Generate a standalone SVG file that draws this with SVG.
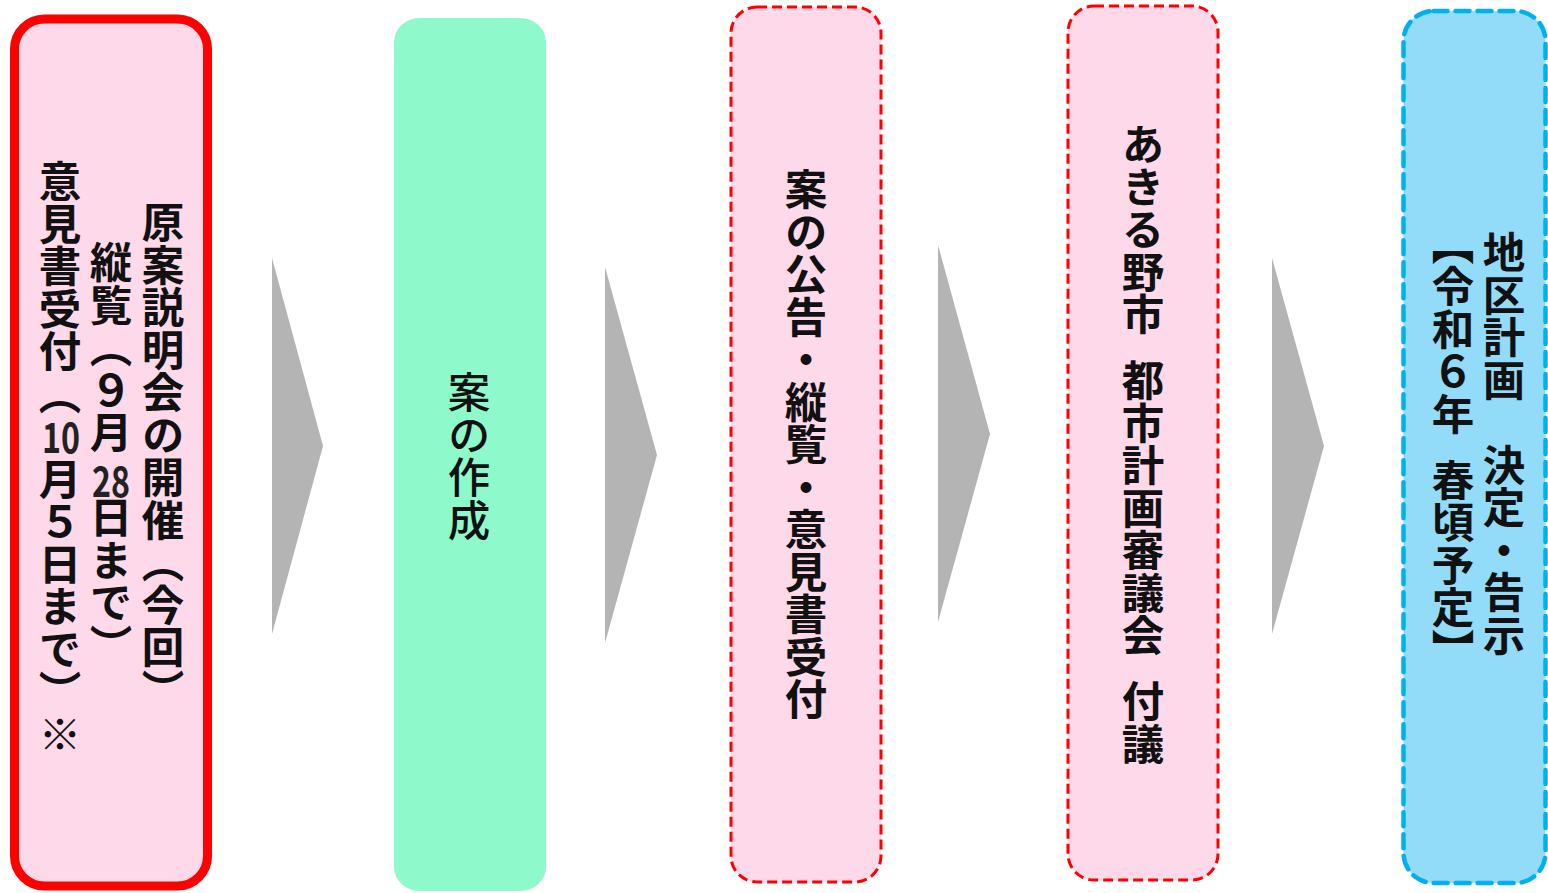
<svg xmlns="http://www.w3.org/2000/svg" width="1548" height="893" viewBox="0 0 1548 893">
<style>
.v{writing-mode:vertical-rl;font-family:"Noto Sans CJK JP","Noto Sans CJK SC",sans-serif;font-size:42.5px;font-weight:700;fill:#111}
.h{font-family:"Noto Sans CJK JP","Noto Sans CJK SC",sans-serif;font-size:42px;font-weight:700;fill:#222;text-anchor:middle}
.pink{fill:#FDD9EA}
.reddash{fill:#FDD9EA;stroke:#FF0000;stroke-width:3;stroke-dasharray:10 5}
.arrow{fill:#B4B4B4}
</style>
<g id="connectors">
<polygon class="arrow" points="272,258 323,446 272,634"/>
<polygon class="arrow" points="605,267 657,455 605,643"/>
<polygon class="arrow" points="938,245 990,434 938,622"/>
<polygon class="arrow" points="1272,258 1324,446 1272,634"/>
</g>
<g id="node1">
<rect x="14.5" y="19" width="193" height="867" rx="30" ry="30" class="pink" stroke="#FF0000" stroke-width="9"/>
<text class="v" x="163" y="201">原案説明会の開催（今回）</text>
<text class="v" x="111" y="241">縦覧（９月</text>
<text class="h" x="111" y="497" textLength="38" lengthAdjust="spacingAndGlyphs">28</text>
<text class="v" x="111" y="496">日まで）</text>
<text class="v" x="60" y="160">意見書受付（</text>
<text class="h" x="61" y="453" textLength="38" lengthAdjust="spacingAndGlyphs">10</text>
<text class="v" x="60" y="457.5">月５日まで）※</text>
</g>
<g id="node2">
<rect x="394" y="18" width="152" height="873" rx="26" ry="24" fill="#8EFACC"/>
<text class="v" x="469" y="371" style="font-weight:500">案の作成</text>
</g>
<g id="node3">
<rect x="731" y="7" width="150" height="875" rx="26" ry="26" class="reddash"/>
<text class="v" x="806" y="168">案の公告・縦覧・意見書受付</text>
</g>
<g id="node4">
<rect x="1068" y="6" width="150" height="874" rx="26" ry="26" class="reddash"/>
<text class="v" x="1143" y="123">あきる野市<tspan y="358.5">都市計画審議会</tspan><tspan y="680">付議</tspan></text>
</g>
<g id="node5">
<rect x="1403.5" y="11" width="142" height="872" rx="30" ry="30" fill="#92DCFA" stroke="#00B0F0" stroke-width="4.5" stroke-dasharray="14 8" stroke-linecap="round"/>
<text class="v" x="1504" y="231">地区計画　決定・告示</text>
<text class="v" x="1453" y="222.5">【令和６年<tspan y="458">春頃予定】</tspan></text>
</g>
</svg>
